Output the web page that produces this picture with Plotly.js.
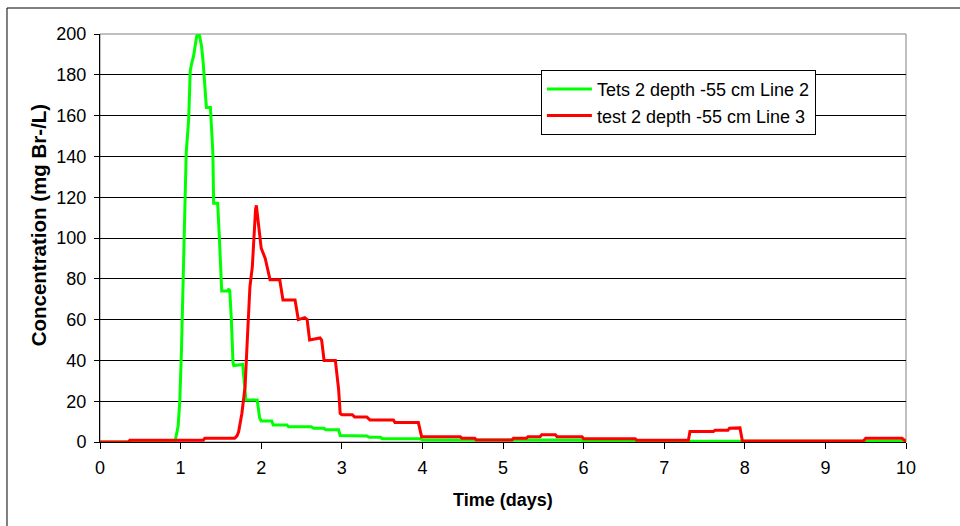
<!DOCTYPE html>
<html>
<head>
<meta charset="utf-8">
<script src="https://cdn.plot.ly/plotly-3.0.1.min.js"></script>
<style>html,body{margin:0;padding:0;background:#fff;}#chart{width:960px;height:526px;}</style>
</head>
<body>
<div id="chart"></div>
<script>
// Series names
const nameGreen = "Tets 2 depth -55 cm Line 2";
const nameRed = "test 2 depth -55 cm Line 3";

// Green series (Line 2): time (days) and concentration (mg Br-/L)
const greenTime = [0, 0.93, 0.97, 0.99, 1.01, 1.04, 1.07, 1.10, 1.12, 1.14, 1.16, 1.18, 1.20, 1.23, 1.26, 1.28, 1.30, 1.32, 1.37, 1.38, 1.40, 1.41, 1.46, 1.48, 1.50, 1.51, 1.58, 1.60, 1.61, 1.63, 1.65, 1.66, 1.77, 1.79, 1.81, 1.95, 1.98, 2.00, 2.13, 2.15, 2.32, 2.34, 2.62, 2.65, 2.78, 2.80, 2.96, 2.98, 3.31, 3.34, 3.48, 3.50, 3.97, 4.00, 5.96, 6.00, 9.93, 10.00];
const greenConc = [0, 0, 8, 20, 44, 100, 142, 158, 182, 186, 189, 194, 199, 200, 194, 186, 174, 164, 164, 155, 142, 117, 117, 101, 76, 74, 74, 75, 74, 60, 39, 37.5, 38, 27, 20.6, 20.6, 12, 10.3, 10.3, 8.3, 8.3, 7.5, 7.5, 6.7, 6.7, 6.0, 6.0, 3.2, 3.0, 2.3, 2.3, 1.6, 1.6, 1.0, 1.0, 0.4, 0.4, 0];

// Red series (Line 3)
const redTime = [0, 0.35, 0.37, 1.28, 1.30, 1.67, 1.70, 1.72, 1.76, 1.80, 1.83, 1.86, 1.89, 1.91, 1.93, 1.94, 1.96, 1.98, 2.00, 2.05, 2.08, 2.11, 2.23, 2.27, 2.42, 2.46, 2.54, 2.57, 2.60, 2.73, 2.75, 2.78, 2.92, 2.96, 2.98, 3.00, 3.13, 3.16, 3.31, 3.35, 3.64, 3.66, 3.95, 3.99, 4.47, 4.49, 4.65, 4.67, 5.11, 5.13, 5.29, 5.31, 5.46, 5.48, 5.65, 5.67, 5.98, 6.00, 6.64, 6.66, 7.30, 7.32, 7.61, 7.63, 7.79, 7.81, 7.94, 7.97, 9.47, 9.50, 9.95, 10.00];
const redConc = [0, 0, 0.8, 0.8, 1.8, 1.8, 3, 5, 14, 27, 52, 76, 86, 101, 114, 116, 109, 101, 95, 90, 85, 79.5, 79.5, 69.6, 69.6, 60, 61, 60, 50, 51, 50, 40, 40, 26, 14, 13.4, 13.4, 12.2, 12.2, 10.8, 10.8, 9.5, 9.5, 2.6, 2.6, 1.8, 1.8, 1.0, 1.0, 1.8, 1.8, 2.6, 2.6, 3.6, 3.6, 2.6, 2.6, 1.6, 1.6, 0.8, 0.8, 5.1, 5.1, 5.7, 5.7, 6.7, 6.9, 0.5, 0.5, 1.8, 1.8, 0.3];

// Axis ticks and titles
const xTicks = [0, 1, 2, 3, 4, 5, 6, 7, 8, 9, 10];
const yTicks = [0, 20, 40, 60, 80, 100, 120, 140, 160, 180, 200];
const xTitle = "Time (days)";
const yTitle = "Concentration (mg Br-/L)";

const FONT = "'Liberation Sans', Arial, sans-serif";

const traces = [
  {x: greenTime, y: greenConc, name: nameGreen, type: "scatter", mode: "lines",
   line: {color: "#00FF00", width: 3}},
  {x: redTime, y: redConc, name: nameRed, type: "scatter", mode: "lines",
   line: {color: "#FF0000", width: 3}}
];

const layout = {
  width: 960, height: 526,
  margin: {l: 100, r: 54, t: 34, b: 84, pad: 0},
  paper_bgcolor: "#FFFFFF", plot_bgcolor: "#FFFFFF",
  font: {family: FONT, size: 18, color: "#000"},
  showlegend: true,
  legend: {x: 0.547, y: 0.912, xanchor: "left", yanchor: "top",
    bgcolor: "#FFFFFF", bordercolor: "#000", borderwidth: 1,
    font: {family: FONT, size: 18, color: "#000"}, itemwidth: 45},
  xaxis: {range: [0, 10], tickvals: xTicks, ticktext: xTicks.map(String),
    ticks: "outside", ticklen: 6, tickcolor: "#000", tickwidth: 1,
    ticklabelstandoff: 3,
    showline: true, linecolor: "#000", linewidth: 1,
    showgrid: false, zeroline: false, fixedrange: true,
    tickfont: {family: FONT, size: 18, color: "#000"}},
  yaxis: {range: [0, 200], tickvals: yTicks, ticktext: yTicks.map(String),
    ticks: "outside", ticklen: 5, tickcolor: "#000", tickwidth: 1,
    ticklabelstandoff: 4,
    showline: true, linecolor: "#000", linewidth: 1,
    showgrid: true, gridcolor: "#000", gridwidth: 1, zeroline: false, fixedrange: true,
    tickfont: {family: FONT, size: 18, color: "#000"}},
  shapes: [
    {type: "rect", xref: "paper", yref: "paper", x0: 0, x1: 1, y0: 0, y1: 1,
     line: {color: "#808080", width: 1}, layer: "below"},
    {type: "line", xref: "paper", yref: "paper", x0: -0.1154, x1: 1.2, y0: 1.0637, y1: 1.0637,
     line: {color: "#000", width: 1}},
    {type: "line", xref: "paper", yref: "paper", x0: -0.1154, x1: -0.1154, y0: -0.3, y1: 1.0637,
     line: {color: "#000", width: 1}}
  ],
  annotations: [
    {text: "<b>" + xTitle + "</b>", xref: "paper", yref: "paper", x: 0.5, y: -0.142,
     xanchor: "center", yanchor: "middle", showarrow: false,
     font: {family: FONT, size: 18, color: "#000"}},
    {text: "<b>" + yTitle + "</b>", xref: "paper", yref: "paper", x: -0.0769, y: 0.531,
     xanchor: "center", yanchor: "middle", showarrow: false, textangle: -90,
     font: {family: FONT, size: 20.5, color: "#000"}}
  ]
};

Plotly.newPlot("chart", traces, layout, {displayModeBar: false, staticPlot: true});
</script>
</body>
</html>
